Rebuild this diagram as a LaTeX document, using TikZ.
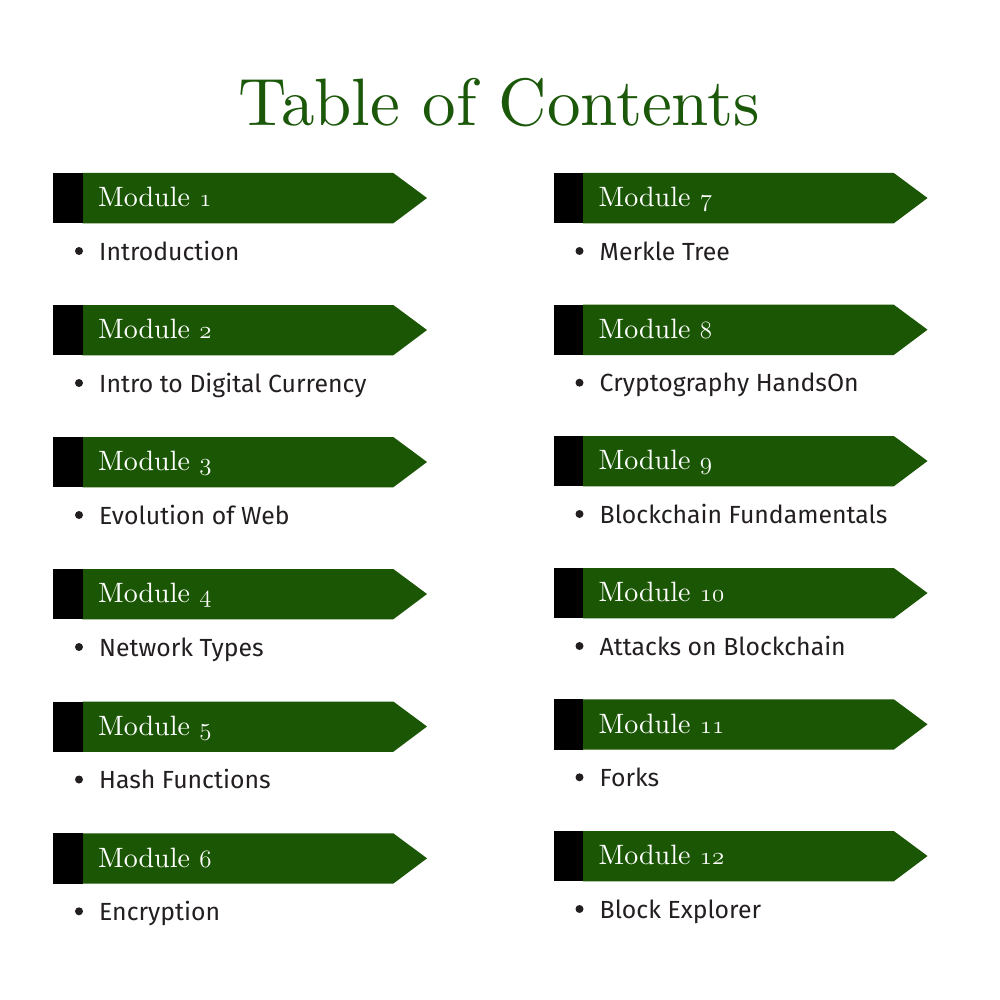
\documentclass[tikz,border=0pt]{standalone}
\usepackage{fontspec}
\newfontfamily\itemfont{Fira Sans}
\newfontfamily\serifx{lmroman10-regular}[Extension=.otf]
\definecolor{bannergreen}{HTML}{1A5604}
\definecolor{titlegreen}{HTML}{1C580A}
\definecolor{itemgray}{HTML}{231F20}
\newcommand\osn[1]{{\usefont{OML}{lmm}{m}{it}#1}}
\tikzset{
  banner/.style={fill=bannergreen},
  tabbox/.style={fill=black},
  modtext/.style={text=white, font=\serifx\fontsize{28}{30}\selectfont, inner sep=0pt, anchor=base west},
  itemtext/.style={text=itemgray, font=\itemfont\fontsize{24.8}{28}\selectfont, inner sep=0pt, anchor=base west},
  dot/.style={circle, fill=itemgray, minimum size=8pt, inner sep=0pt},
  titletext/.style={text=titlegreen, font=\serifx\fontsize{67}{72}\selectfont, inner sep=0pt, anchor=base}
}
% #1 x, #2 y (top), #3 number, #4 item text, #5 id
\newcommand\modrow[5]{%
  \path[banner] (#1+29.5,#2) -- (#1+340.3,#2) -- (#1+374,#2+25) -- (#1+340.3,#2+50.3) -- (#1+29.5,#2+50.3) -- cycle;
  \path[tabbox] (#1,#2) rectangle (#1+29.5,#2+50.3);
  \node[modtext] (mod#5) at (#1+45,#2+33.7) {Module \osn{#3}};
  \node[dot] (dot#5) at (#1+26,#2+78) {};
  \node[itemtext] (item#5) at (#1+46,#2+87) {#4};
}
\begin{document}
\begin{tikzpicture}[x=1pt,y=-1pt]
\useasboundingbox[fill=white] (0,0) rectangle (1000,1000);
\node[titletext] (title) at (499,126) {Table of Contents};
\modrow{53}{173}{1}{Introduction}{1}
\modrow{53}{305}{2}{Intro to Digital Currency}{2}
\modrow{53}{437}{3}{Evolution of Web}{3}
\modrow{53}{569}{4}{Network Types}{4}
\modrow{53}{701.5}{5}{Hash Functions}{5}
\modrow{53}{833.3}{6}{Encryption}{6}
\modrow{553.5}{173}{7}{Merkle Tree}{7}
\modrow{553.5}{304.7}{8}{Cryptography HandsOn}{8}
\modrow{553.5}{436}{9}{Blockchain Fundamentals}{9}
\modrow{553.5}{568}{10}{Attacks on Blockchain}{10}
\modrow{553.5}{699.3}{11}{Forks}{11}
\modrow{553.5}{831}{12}{Block Explorer}{12}
\end{tikzpicture}
\end{document}
